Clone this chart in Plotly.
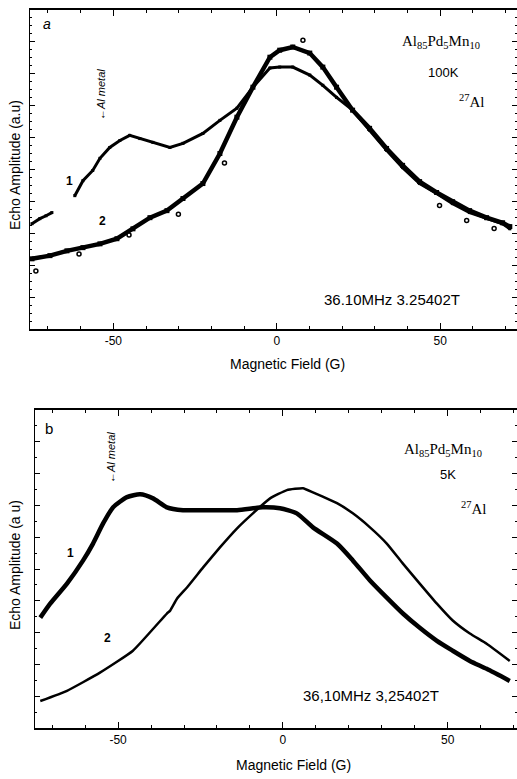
import plotly.graph_objects as go

# ---------- Panel a (100 K) ----------
a_field_1 = [-74.9, -72.5, -70.6, -68.8, None, -61.8, -59.3, -56.3, -54.1, -51.1, -48.0, -45.0, -41.9, -37.9,
             -32.7, -28.7, -22.6, -17.4, -12.2, -7.3, -2.1, 0.9, 4.9, 10.1, 14.1, 18.3, 23.2, 28.4,
             33.6, 38.5, 43.7, 48.9, 53.8, 59.0, 64.2, 69.1, 71.3]
a_amp_1 = [3.30, 3.46, 3.55, 3.65, None, 4.18, 4.65, 4.97, 5.35, 5.69, 5.91, 6.07, 5.97, 5.85,
           5.69, 5.82, 6.13, 6.54, 6.92, 7.58, 8.18, 8.21, 8.21, 7.96, 7.64, 7.26, 6.86, 6.23,
           5.60, 5.06, 4.56, 4.25, 3.93, 3.65, 3.46, 3.30, 3.14]

a_field_2 = [-74.9, -69.4, -64.2, -59.3, -54.1, -48.9, -44.0, -38.8, -33.6, -28.7, -22.6,
             -17.4, -12.2, -7.3, -2.1, 0.9, 4.9, 10.1, 14.1, 18.3, 23.2, 28.4, 33.6, 38.5, 43.7,
             48.9, 53.8, 59.0, 64.2, 69.1, 71.3]
a_amp_2 = [2.20, 2.30, 2.45, 2.55, 2.67, 2.83, 3.14, 3.49, 3.71, 4.09, 4.56,
           5.50, 6.64, 7.58, 8.52, 8.74, 8.84, 8.65, 8.21, 7.58, 6.86, 6.29, 5.66, 5.13, 4.62,
           4.28, 3.99, 3.71, 3.49, 3.33, 3.21]

# isolated scattered points of run 2
a_outlier_field = [-73.7, -60.5, -45.2, -30.1, -16.0, 8.0, 49.8, 58.1, 66.5]
a_outlier_amp = [1.82, 2.35, 2.95, 3.60, 5.20, 9.05, 3.87, 3.40, 3.15]

# ---------- Panel b (5 K) ----------
b_field_1 = [-73.6, -70.6, -65.5, -60.6, -57.6, -54.5, -51.5, -47.3, -43.3, -39.4, -35.2, -30.3,
             -24.2, -13.9, -6.1, -0.9, 4.2, 9.1, 16.4, 21.2, 26.4, 31.5, 36.4, 41.5, 46.7, 51.5,
             56.7, 61.8, 68.8]
b_amp_1 = [3.47, 3.91, 4.54, 5.27, 5.80, 6.44, 6.94, 7.26, 7.35, 7.22, 6.94, 6.85,
           6.85, 6.85, 6.94, 6.91, 6.75, 6.31, 5.80, 5.27, 4.64, 4.10, 3.60, 3.15, 2.74, 2.43,
           2.11, 1.86, 1.48]

b_field_2 = [-73.6, -65.5, -55.5, -45.5, -35.2, -34.2, -32.1, -29.1, -24.2, -19.1, -13.9, -9.1,
             -3.9, 1.2, 6.1, 9.1, 16.4, 21.2, 26.4, 31.5, 36.4, 41.5, 46.7, 51.5, 56.7, 61.8, 68.8]
b_amp_2 = [0.85, 1.17, 1.74, 2.43, 3.60, 3.69, 4.07, 4.42, 5.05, 5.68, 6.28, 6.75,
           7.22, 7.48, 7.54, 7.41, 7.07, 6.75, 6.31, 5.80, 5.17, 4.54, 3.91, 3.38, 2.97, 2.65, 2.11]

x_ticks = [-50, 0, 50]
x_tick_text = ["-50", "0", "50"]

W, H = 517, 779
SANS = "Liberation Sans, Arial, sans-serif"
SERIF = "Liberation Serif, Times New Roman, serif"

fig = go.Figure()

# panel a traces
fig.add_trace(go.Scatter(x=a_field_1, y=a_amp_1, mode="lines+markers", xaxis="x", yaxis="y",
                         line=dict(color="black", width=3),
                         marker=dict(color="black", size=3, symbol="square"),
                         connectgaps=False, showlegend=False))
fig.add_trace(go.Scatter(x=a_field_2, y=a_amp_2, mode="lines+markers", xaxis="x", yaxis="y",
                         line=dict(color="black", width=4.5),
                         marker=dict(color="black", size=5, symbol="square"),
                         showlegend=False))
fig.add_trace(go.Scatter(x=a_outlier_field, y=a_outlier_amp, mode="markers", xaxis="x", yaxis="y",
                         marker=dict(color="white", size=4, symbol="circle",
                                     line=dict(color="black", width=1.5)),
                         showlegend=False))
# panel b traces
fig.add_trace(go.Scatter(x=b_field_1, y=b_amp_1, mode="lines", xaxis="x2", yaxis="y2",
                         line=dict(color="black", width=4.5, shape="spline", smoothing=0.6),
                         showlegend=False))
fig.add_trace(go.Scatter(x=b_field_2, y=b_amp_2, mode="lines", xaxis="x2", yaxis="y2",
                         line=dict(color="black", width=2.5, shape="spline", smoothing=0.4),
                         showlegend=False))

def px_x(p):
    return p / W

def px_y(p):
    return 1 - p / H

axis_common = dict(showgrid=False, zeroline=False, linecolor="black", showline=True,
                   ticks="inside", tickcolor="black", mirror="ticks")

fig.update_layout(
    width=W, height=H,
    margin=dict(l=0, r=0, t=0, b=0),
    paper_bgcolor="white", plot_bgcolor="white",
    font=dict(family=SANS, color="black", size=12),
    xaxis=dict(axis_common, domain=[px_x(30), 1], range=[-75.5, 73.5],
               tickvals=x_ticks, ticktext=x_tick_text, ticklen=6, linewidth=2,
               minor=dict(dtick=10, ticklen=3, ticks="inside", tickcolor="black"),
               tickfont=dict(size=12, family=SANS), anchor="y"),
    yaxis=dict(axis_common, domain=[px_y(329), px_y(10)], range=[0, 10],
               showticklabels=False, dtick=1, ticklen=5, linewidth=1.2,
               minor=dict(dtick=0.25, ticklen=2, ticks="inside", tickcolor="black"),
               anchor="x"),
    xaxis2=dict(axis_common, domain=[px_x(35), 1], range=[-75.2, 71.0],
                tickvals=x_ticks, ticktext=x_tick_text, ticklen=6, linewidth=2,
                minor=dict(dtick=10, ticklen=3, ticks="inside", tickcolor="black"),
                tickfont=dict(size=12, family=SANS), anchor="y2"),
    yaxis2=dict(axis_common, domain=[px_y(728), px_y(410)], range=[0, 10],
                showticklabels=False, dtick=1, ticklen=5, linewidth=1,
                minor=dict(dtick=0.5, ticklen=2, ticks="inside", tickcolor="black"),
                anchor="x2"),
)

def ann(text, x, y, size=13, family=SANS, angle=0, xanchor="center", yanchor="middle"):
    fig.add_annotation(text=text, x=px_x(x), y=px_y(y), xref="paper", yref="paper",
                       showarrow=False, textangle=angle, xanchor=xanchor, yanchor=yanchor,
                       font=dict(size=size, family=family, color="black"))

# panel a texts
ann("<i>a</i>", 47, 24, size=14)
ann("Al<sub>85</sub>Pd<sub>5</sub>Mn<sub>10</sub>", 441, 42, size=15, family=SERIF)
ann("100K", 443, 73, size=13)
ann("<sup>27</sup>Al", 472, 101, size=15, family=SERIF)
ann("36.10MHz 3.25402T", 392, 299, size=15)
ann("<i>\u2190Al metal</i>", 101, 95, size=11, angle=-90)
ann("<b>1</b>", 69, 181, size=12)
ann("<b>2</b>", 102, 221, size=12)
ann("Echo Amplitude (a.u)", 15, 165, size=14, angle=-90)
ann("Magnetic Field (G)", 287, 364, size=14)

# panel b texts
ann("b", 49, 428, size=15)
ann("Al<sub>85</sub>Pd<sub>5</sub>Mn<sub>10</sub>", 443, 450, size=15, family=SERIF)
ann("5K", 448, 474, size=13)
ann("<sup>27</sup>Al", 474, 508, size=15, family=SERIF)
ann("36,10MHz 3,25402T", 371, 695, size=15)
ann("<i>\u2190Al metal</i>", 111, 458, size=11, angle=-90)
ann("<b>1</b>", 70, 553, size=12)
ann("<b>2</b>", 107, 638, size=12)
ann("Echo Amplitude (a u)", 15, 565, size=14, angle=-90)
ann("Magnetic Field (G)", 293, 765, size=14)

fig.write_html("out.html")
